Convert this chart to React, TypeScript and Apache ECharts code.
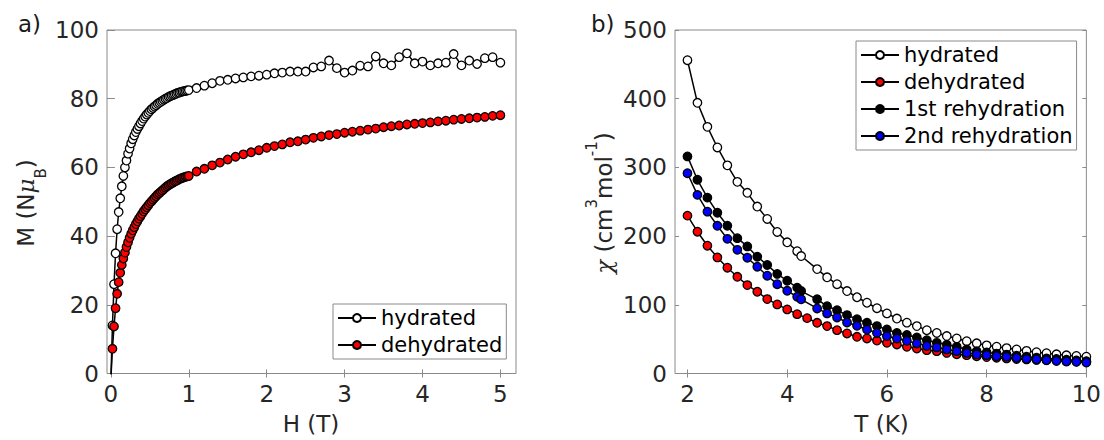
import React, { useEffect, useRef } from 'react';
import * as echarts from 'echarts';

// ---------- panel a) : magnetisation vs field ----------
const fieldH = [
  0, 0.02, 0.04, 0.06, 0.08, 0.1, 0.12, 0.14, 0.16, 0.18, 0.2, 0.22, 0.24, 0.26, 0.28, 0.3, 0.32, 0.34, 0.36, 0.38,
  0.4, 0.42, 0.44, 0.46, 0.48, 0.5, 0.52, 0.54, 0.56, 0.58, 0.6, 0.62, 0.64, 0.66, 0.68, 0.7, 0.72, 0.74, 0.76, 0.78,
  0.8, 0.82, 0.84, 0.86, 0.88, 0.9, 0.92, 0.94, 0.96, 0.98,
  1.0, 1.1, 1.2, 1.3, 1.4, 1.5, 1.6, 1.7, 1.8, 1.9, 2.0, 2.1, 2.2, 2.3, 2.4, 2.5, 2.6, 2.7, 2.8, 2.9,
  3.0, 3.1, 3.2, 3.3, 3.4, 3.5, 3.6, 3.7, 3.8, 3.9, 4.0, 4.1, 4.2, 4.3, 4.4, 4.5, 4.6, 4.7, 4.8, 4.9, 5.0,
];
const magHydrated = [
  -1.5, 14, 26, 35, 42, 47, 51, 54.5, 57.5, 60, 62, 64, 65.5, 67, 68.2, 69.3, 70.3, 71.2, 72, 72.8,
  73.5, 74.2, 74.8, 75.4, 75.9, 76.4, 76.9, 77.3, 77.7, 78.1, 78.5, 78.8, 79.1, 79.4, 79.7, 80.0, 80.2, 80.5, 80.7, 80.9,
  81.1, 81.3, 81.5, 81.7, 81.8, 82.0, 82.1, 82.2, 82.3, 82.4,
  82.5, 83.1, 83.8, 84.5, 85.2, 85.5, 85.9, 86.2, 86.5, 86.7, 87.0, 87.4, 87.6, 87.9, 87.9, 87.9, 89.1, 89.4, 91.1, 88.9,
  87.6, 88.2, 89.6, 89.4, 92.3, 90.3, 89.7, 92.1, 93.2, 90.3, 90.8, 89.7, 90.3, 90.5, 93.0, 89.7, 91.1, 90.1, 91.8, 92.1, 90.5,
];
const magDehydrated = [
  -1.5, 7.2, 13.7, 19, 23.2, 26.6, 29.3, 31.6, 33.5, 35.2, 36.8, 38.2, 39.5, 40.7, 41.7, 42.6, 43.5, 44.3, 45.1, 45.8,
  46.5, 47.2, 47.8, 48.4, 49.0, 49.6, 50.1, 50.6, 51.1, 51.6, 52.1, 52.5, 52.9, 53.3, 53.7, 54.1, 54.5, 54.8, 55.1, 55.4,
  55.6, 55.9, 56.1, 56.3, 56.6, 56.8, 57.0, 57.1, 57.3, 57.4,
  57.5, 58.8, 59.6, 60.6, 61.4, 62.3, 63.1, 63.8, 64.4, 65.0, 65.7, 66.2, 66.7, 67.3, 67.6, 68.1, 68.6, 69.0, 69.4, 69.7,
  70.1, 70.4, 70.7, 71.0, 71.3, 71.7, 72.0, 72.2, 72.5, 72.7, 72.9, 73.1, 73.4, 73.6, 73.9, 74.1, 74.3, 74.5, 74.7, 75.0, 75.2,
];
const hTicks = [0, 1, 2, 3, 4, 5];

// ---------- panel b) : susceptibility vs temperature ----------
const tempA = [
  2.0, 2.2, 2.4, 2.6, 2.8, 3.0, 3.2, 3.4, 3.6, 3.8, 4.0, 4.2, 4.28,
  4.6, 4.8, 5.0, 5.2, 5.4, 5.6, 5.8, 6.0, 6.2, 6.4, 6.6, 6.8, 7.0, 7.2, 7.4, 7.6, 7.8,
  8.0, 8.2, 8.4, 8.6, 8.8, 9.0, 9.2, 9.4, 9.6, 9.8, 10.0,
];
const tempB = [
  2.0, 2.2, 2.4, 2.6, 2.8, 3.0, 3.2, 3.4, 3.6, 3.8, 4.0, 4.2, 4.4, 4.6, 4.8, 5.0, 5.2, 5.4, 5.6, 5.8,
  6.0, 6.2, 6.4, 6.6, 6.8, 7.0, 7.2, 7.4, 7.6, 7.8, 8.0, 8.2, 8.4, 8.6, 8.8, 9.0, 9.2, 9.4, 9.6, 9.8, 10.0,
];
const chiHydrated = [
  456, 394, 359, 329, 303, 279, 263, 243, 225, 206, 191, 178, 171,
  152, 140, 130, 120, 111, 103, 95, 87.5, 80, 74, 69, 63, 59, 54.5, 51, 47, 44,
  41, 39, 37, 35, 33, 31, 29.5, 28, 26.5, 25.5, 24.5,
];
const chiDehydrated = [
  229.8, 206.4, 186, 169, 154, 140.8, 128.7, 119, 108.3, 100.6, 93.3, 86.4, 80.6, 73.8, 69, 63.1, 58.3, 53.4, 51, 48,
  44.6, 42.3, 38.8, 36.4, 34, 32.5, 30, 28.1, 26.7, 25.2, 24, 23, 22, 21.2, 20.5, 19.8, 19.2, 18.6, 18, 17.5, 17,
];
const chiRehyd1 = [
  316, 282, 256, 234, 215, 197, 185, 170, 158, 145, 135, 125, 120,
  108, 98, 92, 85, 79, 74, 69, 64, 59, 56, 52.5, 48.5, 44.6, 42, 38.8, 35, 32.5,
  30.5, 29, 27.5, 26, 24.5, 23, 22, 21, 20, 19, 18,
];
const chiRehyd2 = [
  291.5, 260, 235.6, 215, 196, 180, 168.5, 155.4, 142.3, 130, 120.4, 111.7, 108,
  94.7, 87.5, 81.6, 74.3, 69.4, 64, 59, 54.4, 51, 47.5, 43.7, 40.2, 38, 35, 32.5, 30, 28,
  26.7, 25.2, 24.2, 22.8, 21.4, 20.4, 19.5, 18.5, 17.5, 17, 16,
];
const tTicks = [2, 4, 6, 8, 10];

const FONT = 'DejaVu Sans';
const AXIS_GRAY = '#8a8a8a';
const TXT = '#262626';

function mkSeries(name: string, xs: number[], ys: number[], fill: string, idx: number) {
  return {
    name,
    type: 'line',
    xAxisIndex: idx * 2,
    yAxisIndex: idx * 2,
    data: xs.map((x, i) => [x, ys[i]]),
    symbol: 'circle',
    symbolSize: 8.5,
    showAllSymbol: true,
    clip: true,
    itemStyle: { color: fill, borderColor: '#000', borderWidth: 1.3 },
    lineStyle: { color: '#000', width: 1.5 },
    emphasis: { disabled: true },
  };
}

function xAxes(grid: number, min: number, max: number, ticks: number[]) {
  const base = {
    type: 'value',
    gridIndex: grid,
    min,
    max,
    axisLine: { show: false },
    splitLine: { show: false },
    axisTick: { show: true, inside: true, length: 4, customValues: ticks, lineStyle: { color: AXIS_GRAY, width: 1 } },
  };
  return [
    { ...base, position: 'bottom', axisLabel: { customValues: ticks, fontSize: 23, fontFamily: FONT, color: TXT, margin: 9 } },
    { ...base, position: 'top', axisLabel: { show: false } },
  ];
}

function yAxes(grid: number, max: number, interval: number) {
  const base = {
    type: 'value',
    gridIndex: grid,
    min: 0,
    max,
    interval,
    axisLine: { show: false },
    splitLine: { show: false },
    axisTick: { show: true, inside: true, length: 4, lineStyle: { color: AXIS_GRAY, width: 1 } },
  };
  return [
    { ...base, position: 'left', axisLabel: { fontSize: 23, fontFamily: FONT, color: TXT, margin: 8 } },
    { ...base, position: 'right', axisLabel: { show: false } },
  ];
}

const legendBase = {
  orient: 'vertical',
  itemWidth: 38,
  itemHeight: 10,
  itemGap: 3,
  padding: [2, 4, 2, 4],
  borderColor: AXIS_GRAY,
  borderWidth: 1,
  backgroundColor: '#fff',
  selectedMode: false,
  textStyle: { fontSize: 21, fontFamily: FONT, color: '#000', lineHeight: 24 },
};

export default function App() {
  const ref = useRef<HTMLDivElement>(null);
  useEffect(() => {
    if (!ref.current) return;
    const chart = echarts.init(ref.current, undefined, { renderer: 'svg' });
    chart.setOption({
      animation: false,
      backgroundColor: '#fff',
      grid: [
        { left: 107, top: 30, width: 409, height: 343.5, show: true, borderColor: AXIS_GRAY, borderWidth: 1, backgroundColor: 'transparent' },
        { left: 675, top: 30, width: 413, height: 343.5, show: true, borderColor: AXIS_GRAY, borderWidth: 1, backgroundColor: 'transparent' },
      ],
      xAxis: [...xAxes(0, -0.05, 5.2, hTicks), ...xAxes(1, 1.75, 10, tTicks)],
      yAxis: [...yAxes(0, 100, 20), ...yAxes(1, 500, 100)],
      legend: [
        { ...legendBase, left: 333, top: 304, data: ['hydrated', 'dehydrated'] },
        { ...legendBase, left: 856, top: 41, data: ['hydrated', 'dehydrated', '1st rehydration', '2nd rehydration'] },
      ],
      series: [
        mkSeries('hydrated', fieldH, magHydrated, '#ffffff', 0),
        mkSeries('dehydrated', fieldH, magDehydrated, '#ff0000', 0),
        mkSeries('hydrated', tempA, chiHydrated, '#ffffff', 1),
        mkSeries('dehydrated', tempB, chiDehydrated, '#ff0000', 1),
        mkSeries('1st rehydration', tempA, chiRehyd1, '#000000', 1),
        mkSeries('2nd rehydration', tempA, chiRehyd2, '#0000ff', 1),
      ],
      graphic: [
        { type: 'text', x: 18, y: 24, style: { text: 'a)', fontSize: 23, fontFamily: FONT, fill: '#1a1a1a', align: 'left', verticalAlign: 'middle' } },
        { type: 'text', x: 591, y: 24, style: { text: 'b)', fontSize: 23, fontFamily: FONT, fill: '#1a1a1a', align: 'left', verticalAlign: 'middle' } },
        { type: 'text', x: 311, y: 424, style: { text: 'H (T)', fontSize: 23, fontFamily: FONT, fill: TXT, align: 'center', verticalAlign: 'middle' } },
        { type: 'text', x: 881.5, y: 424, style: { text: 'T (K)', fontSize: 23, fontFamily: FONT, fill: TXT, align: 'center', verticalAlign: 'middle' } },
        {
          type: 'text', x: 26, y: 203, rotation: Math.PI / 2,
          style: {
            text: '{m|M (N}{i|μ}{s|B}{m|)}',
            fontSize: 23, fontFamily: FONT, fill: TXT, align: 'center', verticalAlign: 'middle',
            rich: {
              m: { fontSize: 23, fontFamily: FONT, fill: TXT, lineHeight: 44 },
              i: { fontSize: 23, fontFamily: 'DejaVu Serif', fontStyle: 'italic', fill: TXT, lineHeight: 44 },
              s: { fontSize: 15, fontFamily: FONT, fill: TXT, lineHeight: 15, verticalAlign: 'bottom' },
            },
          },
        },
        {
          type: 'text', x: 604, y: 203, rotation: Math.PI / 2,
          style: {
            text: '{c|χ}{m| (cm}{s|3}{m|mol}{s|-1}{m|)}',
            fontSize: 23, fontFamily: FONT, fill: TXT, align: 'center', verticalAlign: 'middle',
            rich: {
              m: { fontSize: 23, fontFamily: FONT, fill: TXT, lineHeight: 40 },
              c: { fontSize: 23, fontFamily: 'DejaVu Serif', fontStyle: 'italic', fill: TXT, lineHeight: 40 },
              s: { fontSize: 15, fontFamily: FONT, fill: TXT, lineHeight: 15, verticalAlign: 'top' },
            },
          },
        },
      ],
    });
    return () => chart.dispose();
  }, []);
  return <div ref={ref} style={{ position: 'fixed', left: 0, top: 0, width: 1104, height: 440 }} />;
}
